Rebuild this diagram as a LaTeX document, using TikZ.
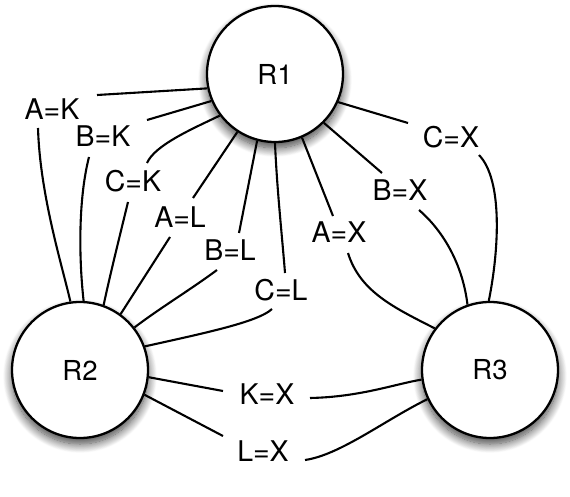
\documentclass[tikz,border=0pt]{standalone}
\usepackage{fontspec}
\setmainfont{TeX Gyre Heros}
\usetikzlibrary{shadows.blur}
\tikzset{
  router/.style={circle, draw, line width=2.3pt, fill=white, minimum size=136pt, inner sep=0pt,
    font=\fontsize{27.5}{30}\selectfont,
    blur shadow={shadow xshift=0pt, shadow yshift=-6pt, shadow blur radius=9pt, shadow blur steps=14, shadow opacity=75}},
  lbl/.style={inner sep=0pt, font=\fontsize{28.5}{30}\selectfont},
  link/.style={line width=2.1pt}
}
\begin{document}
\begin{tikzpicture}[x=1pt,y=-1pt]
\useasboundingbox (0,0) rectangle (570,497);
% routers
\node[router] (R1) at (275,74) {R1};
\node[router] (R2) at (80,370) {R2};
\node[router] (R3) at (490,370) {R3};
% labels
\node[lbl] (AK) at (52,109) {A=K};
\node[lbl] (BK) at (103,136) {B=K};
\node[lbl] (CK) at (133,181) {C=K};
\node[lbl] (AL) at (180,217) {A=L};
\node[lbl] (BL) at (230,250) {B=L};
\node[lbl] (CL) at (281,290) {C=L};
\node[lbl] (AX) at (339,232) {A=X};
\node[lbl] (BX) at (400,190) {B=X};
\node[lbl] (CX) at (451,137) {C=X};
\node[lbl] (KX) at (267,394) {K=X};
\node[lbl] (LX) at (263,451) {L=X};
% connector ends beside labels
\coordinate (AKu) at (97,95);   \coordinate (AKd) at (38,128);
\coordinate (BKu) at (147,120); \coordinate (BKd) at (89,157);
\coordinate (CKu) at (147,163); \coordinate (CKd) at (128,202);
\coordinate (ALu) at (193,198); \coordinate (ALd) at (170,237);
\coordinate (BLu) at (239,233); \coordinate (BLd) at (217,270);
\coordinate (CLu) at (285,273); \coordinate (CLd) at (272,309);
\coordinate (AXu) at (333,216); \coordinate (AXd) at (348,253);
\coordinate (BXu) at (382,173); \coordinate (BXd) at (419,210);
\coordinate (CXu) at (408,123); \coordinate (CXd) at (479,155);
\coordinate (KXl) at (223,391); \coordinate (KXr) at (310,398);
\coordinate (LXl) at (223,436); \coordinate (LXr) at (305,460);
% R1 side
\draw[link] (R1.192) -- (AKu);
\draw[link] (R1.203) -- (BKu);
\draw[link] (R1.217) .. controls (192,129) and (155,145) .. (CKu);
\draw[link] (R1.237) -- (ALu);
\draw[link] (R1.255) -- (BLu);
\draw[link] (R1.270) .. controls (277,190) and (282,235) .. (CLu);
\draw[link] (R1.293.6) -- (AXu);
\draw[link] (R1.315.6) -- (BXu);
\draw[link] (R1.336) -- (CXu);
% R2 side
\draw[link] (AKd) .. controls (40,195) and (62,265) .. (R2.98.5);
\draw[link] (BKd) .. controls (78,200) and (79,260) .. (R2.87.5);
\draw[link] (CKd) .. controls (120,235) and (110,275) .. (R2.70.5);
\draw[link] (ALd) -- (R2.54);
\draw[link] (BLd) .. controls (190,290) and (160,308) .. (R2.38);
\draw[link] (CLd) .. controls (258,322) and (205,333) .. (R2.20);
\draw[link] (R2.-6.6) -- (KXl);
\draw[link] (R2.-21.5) -- (LXl);
% R3 side
\draw[link] (AXd) .. controls (360,292) and (395,308) .. (R3.143.6);
\draw[link] (BXd) .. controls (440,228) and (462,260) .. (R3.109);
\draw[link] (CXd) .. controls (503,180) and (499,250) .. (R3.91.7);
\draw[link] (KXr) .. controls (360,397) and (395,384) .. (R3.188);
\draw[link] (LXr) .. controls (340,455) and (385,420) .. (R3.205);
\end{tikzpicture}
\end{document}
